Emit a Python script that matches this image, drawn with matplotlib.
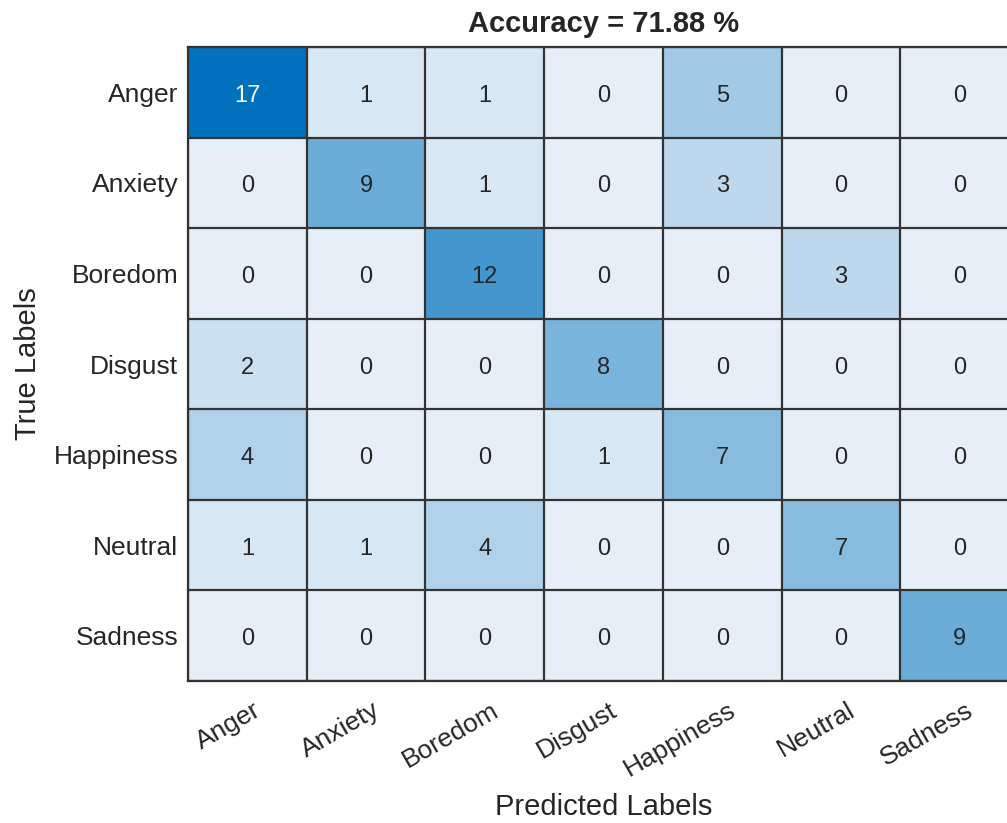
import numpy as np
import matplotlib
matplotlib.use("Agg")
import matplotlib.pyplot as plt
from matplotlib.colors import LinearSegmentedColormap
import matplotlib.transforms as mtransforms

plt.rcParams['font.family'] = ['Liberation Sans', 'DejaVu Sans']

classes = ["Anger", "Anxiety", "Boredom", "Disgust", "Happiness", "Neutral", "Sadness"]
counts = [
    [17, 1, 1, 0, 5, 0, 0],
    [0, 9, 1, 0, 3, 0, 0],
    [0, 0, 12, 0, 0, 3, 0],
    [2, 0, 0, 8, 0, 0, 0],
    [4, 0, 0, 1, 7, 0, 0],
    [1, 1, 4, 0, 0, 7, 0],
    [0, 0, 0, 0, 0, 0, 9],
]
title = "Accuracy = 71.88 %"

cm = np.array(counts)
cmap = LinearSegmentedColormap.from_list("mblue", ["#E6EFF8", "#0072BD"])

fig = plt.figure(figsize=(10.07, 8.23), dpi=100)
ax = fig.add_axes([0.1867, 0.1725, 0.8253, 0.7704])
ax.imshow(cm, cmap=cmap, vmin=0, vmax=cm.max(), aspect='auto', interpolation='nearest')

n = len(classes)
for i in range(n):
    for j in range(n):
        v = cm[i, j]
        col = 'white' if v / cm.max() > 0.8 else '#262626'
        ax.text(j, i + 0.04, str(v), ha='center', va='center', fontsize=17, color=col)

ax.set_xticks(np.arange(n))
ax.set_yticks(np.arange(n))
ax.set_xticks(np.arange(-0.5, n, 1), minor=True)
ax.set_yticks(np.arange(-0.5, n, 1), minor=True)
ax.grid(which='minor', color='#333333', linewidth=1.6)
ax.tick_params(which='both', length=0)
ax.tick_params(axis='y', pad=7, labelsize=19, labelcolor='#262626')
ax.tick_params(axis='x', pad=12, labelsize=19, labelcolor='#262626')
ax.set_yticklabels(classes)
ax.set_xticklabels(classes, rotation=30, ha='right', va='top', rotation_mode='anchor')
offset = mtransforms.ScaledTranslation(6 / 100, 0, fig.dpi_scale_trans)
for lab in ax.get_xticklabels():
    lab.set_transform(lab.get_transform() + offset)
for s in ax.spines.values():
    s.set_color('#333333')
    s.set_linewidth(1.6)

ax.set_title(title, fontsize=21, fontweight='bold', color='#262626', pad=11)
ax.set_xlabel("Predicted Labels", fontsize=21, color='#262626')
ax.set_ylabel("True Labels", fontsize=21, color='#262626')
ax.xaxis.set_label_coords(0.5, -0.177)
ax.yaxis.set_label_coords(-0.176, 0.5)

fig.savefig("out.png", dpi=100)
